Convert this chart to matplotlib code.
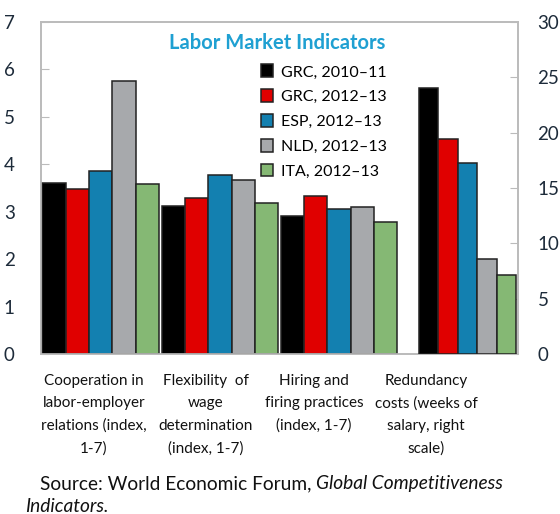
import matplotlib.pyplot as plt
import numpy as np

plt.rcParams['font.family'] = ['Lato', 'DejaVu Sans']

# series (first three groups on left scale, index 1-7)
series = ['GRC, 2010\u201311', 'GRC, 2012\u201313', 'ESP, 2012\u201313', 'NLD, 2012\u201313', 'ITA, 2012\u201313']
colors = ['#000000', '#e00000', '#1380b0', '#a7a9ac', '#85b874']
left_vals = [
    [3.61, 3.11, 2.92],
    [3.48, 3.28, 3.33],
    [3.86, 3.78, 3.05],
    [5.76, 3.67, 3.09],
    [3.59, 3.19, 2.79],
]
# redundancy costs, weeks of salary (right scale)
right_vals = [24.0, 19.4, 17.3, 8.6, 7.1]
categories = [
    'Cooperation in\nlabor-employer\nrelations (index,\n1-7)',
    'Flexibility  of\nwage\ndetermination\n(index, 1-7)',
    'Hiring and\nfiring practices\n(index, 1-7)',
    'Redundancy\ncosts (weeks of\nsalary, right\nscale)',
]

fig = plt.figure(figsize=(5.6, 5.14), dpi=100)
ax = fig.add_axes([41/560, 1-354/514, 477/560, 332/514])
ax2 = ax.twinx()

w = 0.195
x = np.arange(3) + 0.5
for i in range(5):
    ax.bar(x + (i - 2) * w, left_vals[i], w, color=colors[i], edgecolor='#222222',
           linewidth=1.1, label=series[i], zorder=3)

w2 = 0.163
for i in range(5):
    ax2.bar(3.577 + (i - 2) * w2, right_vals[i], w2, color=colors[i], edgecolor='#222222',
            linewidth=1.1, zorder=3)

ax.set_xlim(0, 4)
ax.set_ylim(0, 7)
ax2.set_ylim(0, 30)
ax.set_xticks([])
ax.set_yticks(range(8))
ax2.set_yticks(range(0, 31, 5))

tick_col = '#1d2b3a'
ax.tick_params(axis='y', direction='in', length=6, color='#bbbbbb', pad=19,
               labelsize=13.5, labelcolor=tick_col)
ax2.tick_params(axis='y', direction='in', length=6, color='#bbbbbb', pad=14,
                labelsize=13.5, labelcolor=tick_col)
for a in (ax, ax2):
    for s in a.spines.values():
        s.set_color('#bbbbbb')
        s.set_linewidth(1.2)

ax.text(0.496, 0.938, 'Labor Market Indicators', transform=ax.transAxes, ha='center',
        va='center', fontsize=14.5, fontweight='bold', color='#1fa0d2')

leg = ax.legend(loc='upper left', bbox_to_anchor=(0.462, 0.872), frameon=False,
                fontsize=11.5, handlelength=0.75, handleheight=0.85, handletextpad=0.5,
                labelspacing=0.62, borderaxespad=0, borderpad=0)

label_x = [94, 206, 314, 426]
for lx, lab in zip(label_x, categories):
    fig.text(lx/560, 1-374/514, lab, ha='center', va='top', fontsize=11,
             linespacing=1.75, color='#111111')

# source note: plain part then italic part placed right after it
fig.canvas.draw()
r = fig.canvas.get_renderer()
t1 = fig.text(40/560, 1-484/514, 'Source: World Economic Forum, ', ha='left', va='center',
              fontsize=13.8, color='#111111')
bb = t1.get_window_extent(renderer=r)
fig.text(bb.x1/560, 1-484/514, 'Global Competitiveness', ha='left', va='center',
         fontsize=13.8, style='italic', color='#111111')
fig.text(25/560, 1-507/514, 'Indicators.', ha='left', va='center',
         fontsize=13.8, style='italic', color='#111111')

fig.savefig('out.png', dpi=100)
